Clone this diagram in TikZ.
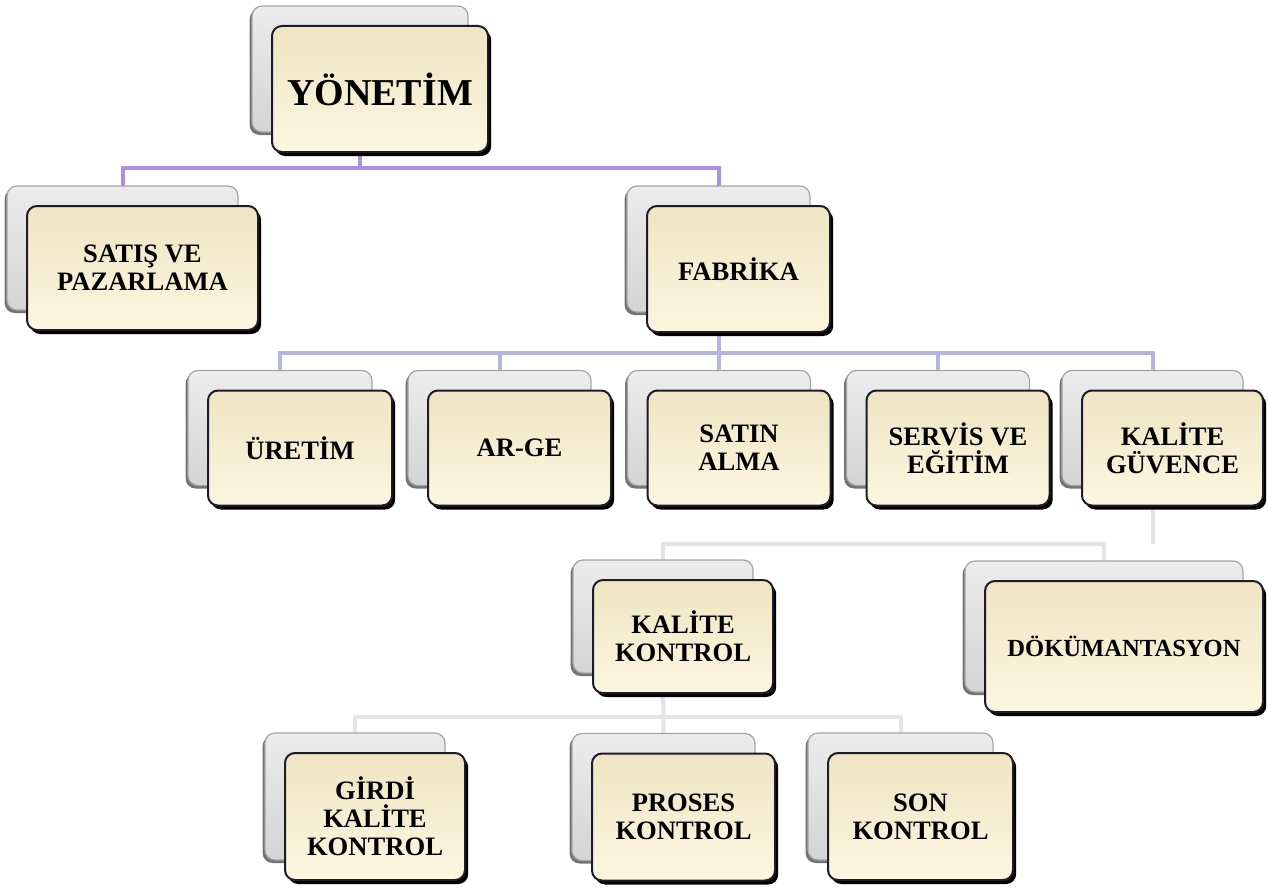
\documentclass[tikz,border=0pt]{standalone}
\usepackage{fontspec}
\setmainfont{Liberation Serif}
\usetikzlibrary{shadows}
\usetikzlibrary{backgrounds}

\begin{document}
\begin{tikzpicture}[x=0.5pt,y=0.5pt,yscale=-1,xscale=1,
		frontbox/.style={draw={rgb, 255:red, 30; green, 28; blue, 40 },line width=1pt,rounded corners=5pt,
			top color={rgb, 255:red, 239; green, 229; blue, 196 },bottom color={rgb, 255:red, 253; green, 246; blue, 224 },
			drop shadow={shadow xshift=1.6pt,shadow yshift=-2pt,fill=black,opacity=1},
			align=center,inner sep=0pt,font=\bfseries\fontsize{13.3}{14}\selectfont},
		backbox/.style={draw={rgb, 255:red, 165; green, 165; blue, 165 },line width=0.6pt,rounded corners=5pt,
			top color={rgb, 255:red, 236; green, 236; blue, 236 },bottom color={rgb, 255:red, 212; green, 212; blue, 212 },
			drop shadow={shadow xshift=-1.2pt,shadow yshift=-1.5pt,fill=black!55,opacity=1}},
		linkA/.style={draw={rgb, 255:red, 172; green, 142; blue, 230 },line width=2pt},
		linkB/.style={draw={rgb, 255:red, 180; green, 180; blue, 226 },line width=2pt},
		linkC/.style={draw={rgb, 255:red, 228; green, 228; blue, 228 },line width=2pt}]
	%set diagram to the size of the reference
	\useasboundingbox (0,0) rectangle (1268,888);
	
	%Boxes: grey copy behind, cream box in front
	\foreach \nm/\x/\y/\w/\h/\txt in {
		yon/380/89/216/126/{\fontsize{19}{21}\selectfont YÖNETİM},
		sat/142.5/268/231/124/{SATIŞ VE\\PAZARLAMA},
		fab/738.5/269/183/126/{FABRİKA},
		ure/300/448/184/115/{ÜRETİM},
		arg/519.5/448/183/115/{AR-GE},
		sal/739/448/183/115/{SATIN\\ALMA},
		ser/958/448/183/115/{SERVİS VE\\EĞİTİM},
		kag/1172.5/448/181/115/{KALİTE\\GÜVENCE},
		kak/683/636.5/180/113/{KALİTE\\KONTROL},
		dok/1124/646.5/278/131/{\fontsize{12.3}{14}\selectfont DÖKÜMANTASYON},
		gir/375/816.5/180/127/{GİRDİ\\KALİTE\\KONTROL},
		pro/683.5/817/183/127/{PROSES\\KONTROL},
		son/920.5/816.5/185/127/{SON\\KONTROL}}{
		\node [backbox,minimum width=\w*0.5pt,minimum height=\h*0.5pt] (\nm b) at (\x-20,\y-20) {};
		\node [frontbox,minimum width=\w*0.5pt,minimum height=\h*0.5pt] (\nm) at (\x,\y) {\txt};
	}
	
	%Bus lines
	\coordinate (busA) at (0,168);
	\coordinate (busB) at (0,353);
	\coordinate (busC) at (0,544);
	\coordinate (busD) at (0,717);
	
	\begin{scope}[on background layer]
		% Level 1
		\draw [linkA] (yonb.center) -- (yonb.center |- busA);
		\draw [linkA] (satb.center) |- (fabb.center |- busA) -- (fabb.center);
		% Level 2
		\draw [linkB] (fabb.center) -- (fabb.center |- busB);
		\draw [linkB] (ureb.center) |- (kagb.center |- busB) -- (kagb.center);
		\foreach \c in {argb,salb,serb}
			\draw [linkB] (\c.center) -- (\c.center |- busB);
		% Level 3
		\draw [linkC] (kagb.center) -- (kagb.center |- busC);
		\draw [linkC] (kakb.center) |- (dokb.center |- busC) -- (dokb.center);
		% Level 4
		\draw [linkC] (kakb.center) -- (prob.center);
		\draw [linkC] (girb.center) |- (sonb.center |- busD) -- (sonb.center);
	\end{scope}
	
\end{tikzpicture}
\end{document}
